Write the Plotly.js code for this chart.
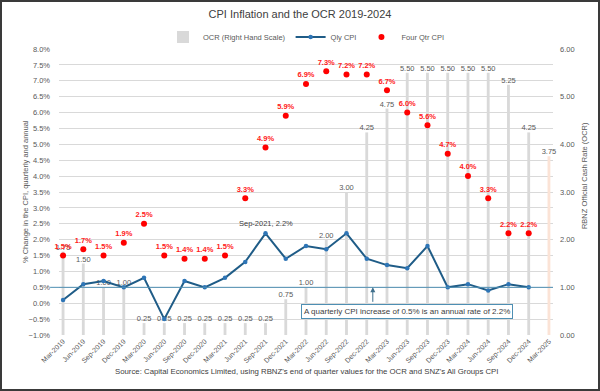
<!DOCTYPE html>
<html>
<head>
<meta charset="utf-8">
<script src="https://cdn.plot.ly/plotly-3.0.1.min.js"></script>
<style>
html,body{margin:0;padding:0;background:#fff;}
#wrap{position:relative;width:600px;height:391px;}
#chart{width:600px;height:391px;}
#frame{position:absolute;left:0;top:0;width:600px;height:391px;box-sizing:border-box;border:2px solid #3a3a3a;pointer-events:none;}
</style>
</head>
<body>
<div id="wrap"><div id="chart"></div><div id="frame"></div></div>
<script>
const quarters = ["Mar-2019","Jun-2019","Sep-2019","Dec-2019","Mar-2020","Jun-2020","Sep-2020","Dec-2020",
  "Mar-2021","Jun-2021","Sep-2021","Dec-2021","Mar-2022","Jun-2022","Sep-2022","Dec-2022",
  "Mar-2023","Jun-2023","Sep-2023","Dec-2023","Mar-2024","Jun-2024","Sep-2024","Dec-2024","Mar-2025"];
const ocr = [1.75,1.50,1.00,1.00,0.25,0.25,0.25,0.25,0.25,0.25,0.25,0.75,1.00,2.00,3.00,4.25,
  4.75,5.50,5.50,5.50,5.50,5.50,5.25,4.25,3.75];
const qlyCpi = [0.1,0.6,0.7,0.5,0.8,-0.5,0.7,0.5,0.8,1.3,2.2,1.4,1.8,1.7,2.2,1.4,1.2,1.1,1.8,0.5,0.6,0.4,0.6,0.5];
const fourQtrCpi = [1.5,1.7,1.5,1.9,2.5,1.5,1.4,1.4,1.5,3.3,4.9,5.9,6.9,7.3,7.2,7.2,6.7,6.0,5.6,4.7,4.0,3.3,2.2,2.2];
const refRate = 0.5;
const highlightIdx = 10;

const FONT = "Liberation Sans, Arial, sans-serif";
const barColors = ocr.map((v,i)=> i === ocr.length-1 ? "#FBE3D6" : "#D9D9D9");

const traces = [
  {
    type: "bar", name: "OCR (Right Hand Scale)",
    x: quarters, y: ocr, yaxis: "y",
    width: 0.14,
    marker: {color: barColors},
    text: ocr.map(v=>v.toFixed(2)),
    textposition: "outside", constraintext: "none", cliponaxis: false,
    textfont: {size: 7.5, color: "#595959", family: FONT},
    hoverinfo: "skip"
  },
  {
    type: "scatter", mode: "lines+markers", name: "Qly CPI",
    x: quarters.slice(0, qlyCpi.length), y: qlyCpi, yaxis: "y2",
    line: {color: "#1F5C87", width: 2},
    marker: {color: "#2E75B6", size: 4.5},
    cliponaxis: false
  },
  {
    type: "scatter", mode: "markers+text", name: "Four Qtr CPI",
    x: quarters.slice(0, fourQtrCpi.length), y: fourQtrCpi, yaxis: "y2",
    marker: {color: "#FF0000", size: 6},
    text: fourQtrCpi.map(v=>v.toFixed(1)+"%"),
    textposition: "top center",
    textfont: {size: 7.5, color: "#FF2020", family: FONT, weight: "bold"},
    cliponaxis: false
  }
];

const layout = {
  width: 600, height: 391,
  margin: {l: 59, r: 47, t: 49, b: 56},
  paper_bgcolor: "#fff", plot_bgcolor: "#fff",
  font: {family: FONT, color: "#595959", size: 7.5},
  title: {text: "CPI Inflation and the OCR 2019-2024", x: 0.5, xanchor: "center",
    y: 0.963, yanchor: "middle", yref: "container",
    font: {size: 11, color: "#404040", family: FONT}},
  showlegend: true,
  legend: {orientation: "h", x: 0.5, xanchor: "center", y: 1.042, yanchor: "middle",
    font: {size: 7.5, color: "#595959"}, itemwidth: 30, traceorder: "normal"},
  bargap: 0.8,
  xaxis: {type: "category", range: [-0.2, 24.2], tickangle: -45,
    tickfont: {size: 7, color: "#595959"}, showgrid: false, showline: false,
    ticks: "", zeroline: false},
  yaxis: {side: "right", range: [0, 6], dtick: 1, tickformat: ".2f",
    showgrid: false, zeroline: false, showline: false, ticks: "",
    ticklabelstandoff: 6, tickfont: {size: 7.5, color: "#595959"}},
  yaxis2: {overlaying: "y", side: "left", range: [-1, 8], dtick: 0.5,
    tickformat: ".1f", ticksuffix: "%",
    showgrid: true, gridcolor: "#D9D9D9", gridwidth: 1,
    zeroline: false, showline: false, ticks: "",
    ticklabelstandoff: 8, tickfont: {size: 7.5, color: "#595959"}},
  shapes: [
    {type: "line", xref: "paper", yref: "y2", x0: -0.018, x1: 1, y0: refRate, y1: refRate,
     line: {color: "#4E8FB3", width: 1}, layer: "above"}
  ],
  annotations: [
    {xref: "x", yref: "y2", x: highlightIdx, y: qlyCpi[highlightIdx],
     text: quarters[highlightIdx] + ", " + qlyCpi[highlightIdx].toFixed(1) + "%",
     showarrow: false, yshift: 10, font: {size: 7.5, color: "#404040"}},
    {xref: "x", yref: "y2", x: 15.3, y: refRate, text: "", showarrow: true,
     arrowhead: 2, arrowsize: 1, arrowwidth: 1, arrowcolor: "#3F6F8C", ax: 0, ay: 16},
    {xref: "x", yref: "y2", x: 17.0, y: refRate, yshift: -24, xanchor: "center",
     text: "A quarterly CPI increase of 0.5% is an annual rate of 2.2%",
     showarrow: false, bgcolor: "#fff", bordercolor: "#4E8FB3", borderwidth: 1, borderpad: 2,
     font: {size: 8, color: "#404040"}},
    {xref: "paper", yref: "paper", x: -0.069, y: 0.503, xanchor: "center", yanchor: "middle",
     textangle: -90, showarrow: false,
     text: "% Change in the CPI, quarterly and annual", font: {size: 7.5, color: "#595959"}},
    {xref: "paper", yref: "paper", x: 1.065, y: 0.556, xanchor: "center", yanchor: "middle",
     textangle: -90, showarrow: false,
     text: "RBNZ Official Cash Rate (OCR)", font: {size: 7.5, color: "#595959"}},
    {xref: "paper", yref: "paper", x: 0.5, y: -0.150, xanchor: "center", showarrow: false,
     text: "Source: Capital Economics Limited, using RBNZ's end of quarter values for the OCR and SNZ's All Groups CPI",
     font: {size: 7.8, color: "#404040"}}
  ]
};

Plotly.newPlot("chart", traces, layout, {displayModeBar: false, staticPlot: true});
</script>
</body>
</html>
